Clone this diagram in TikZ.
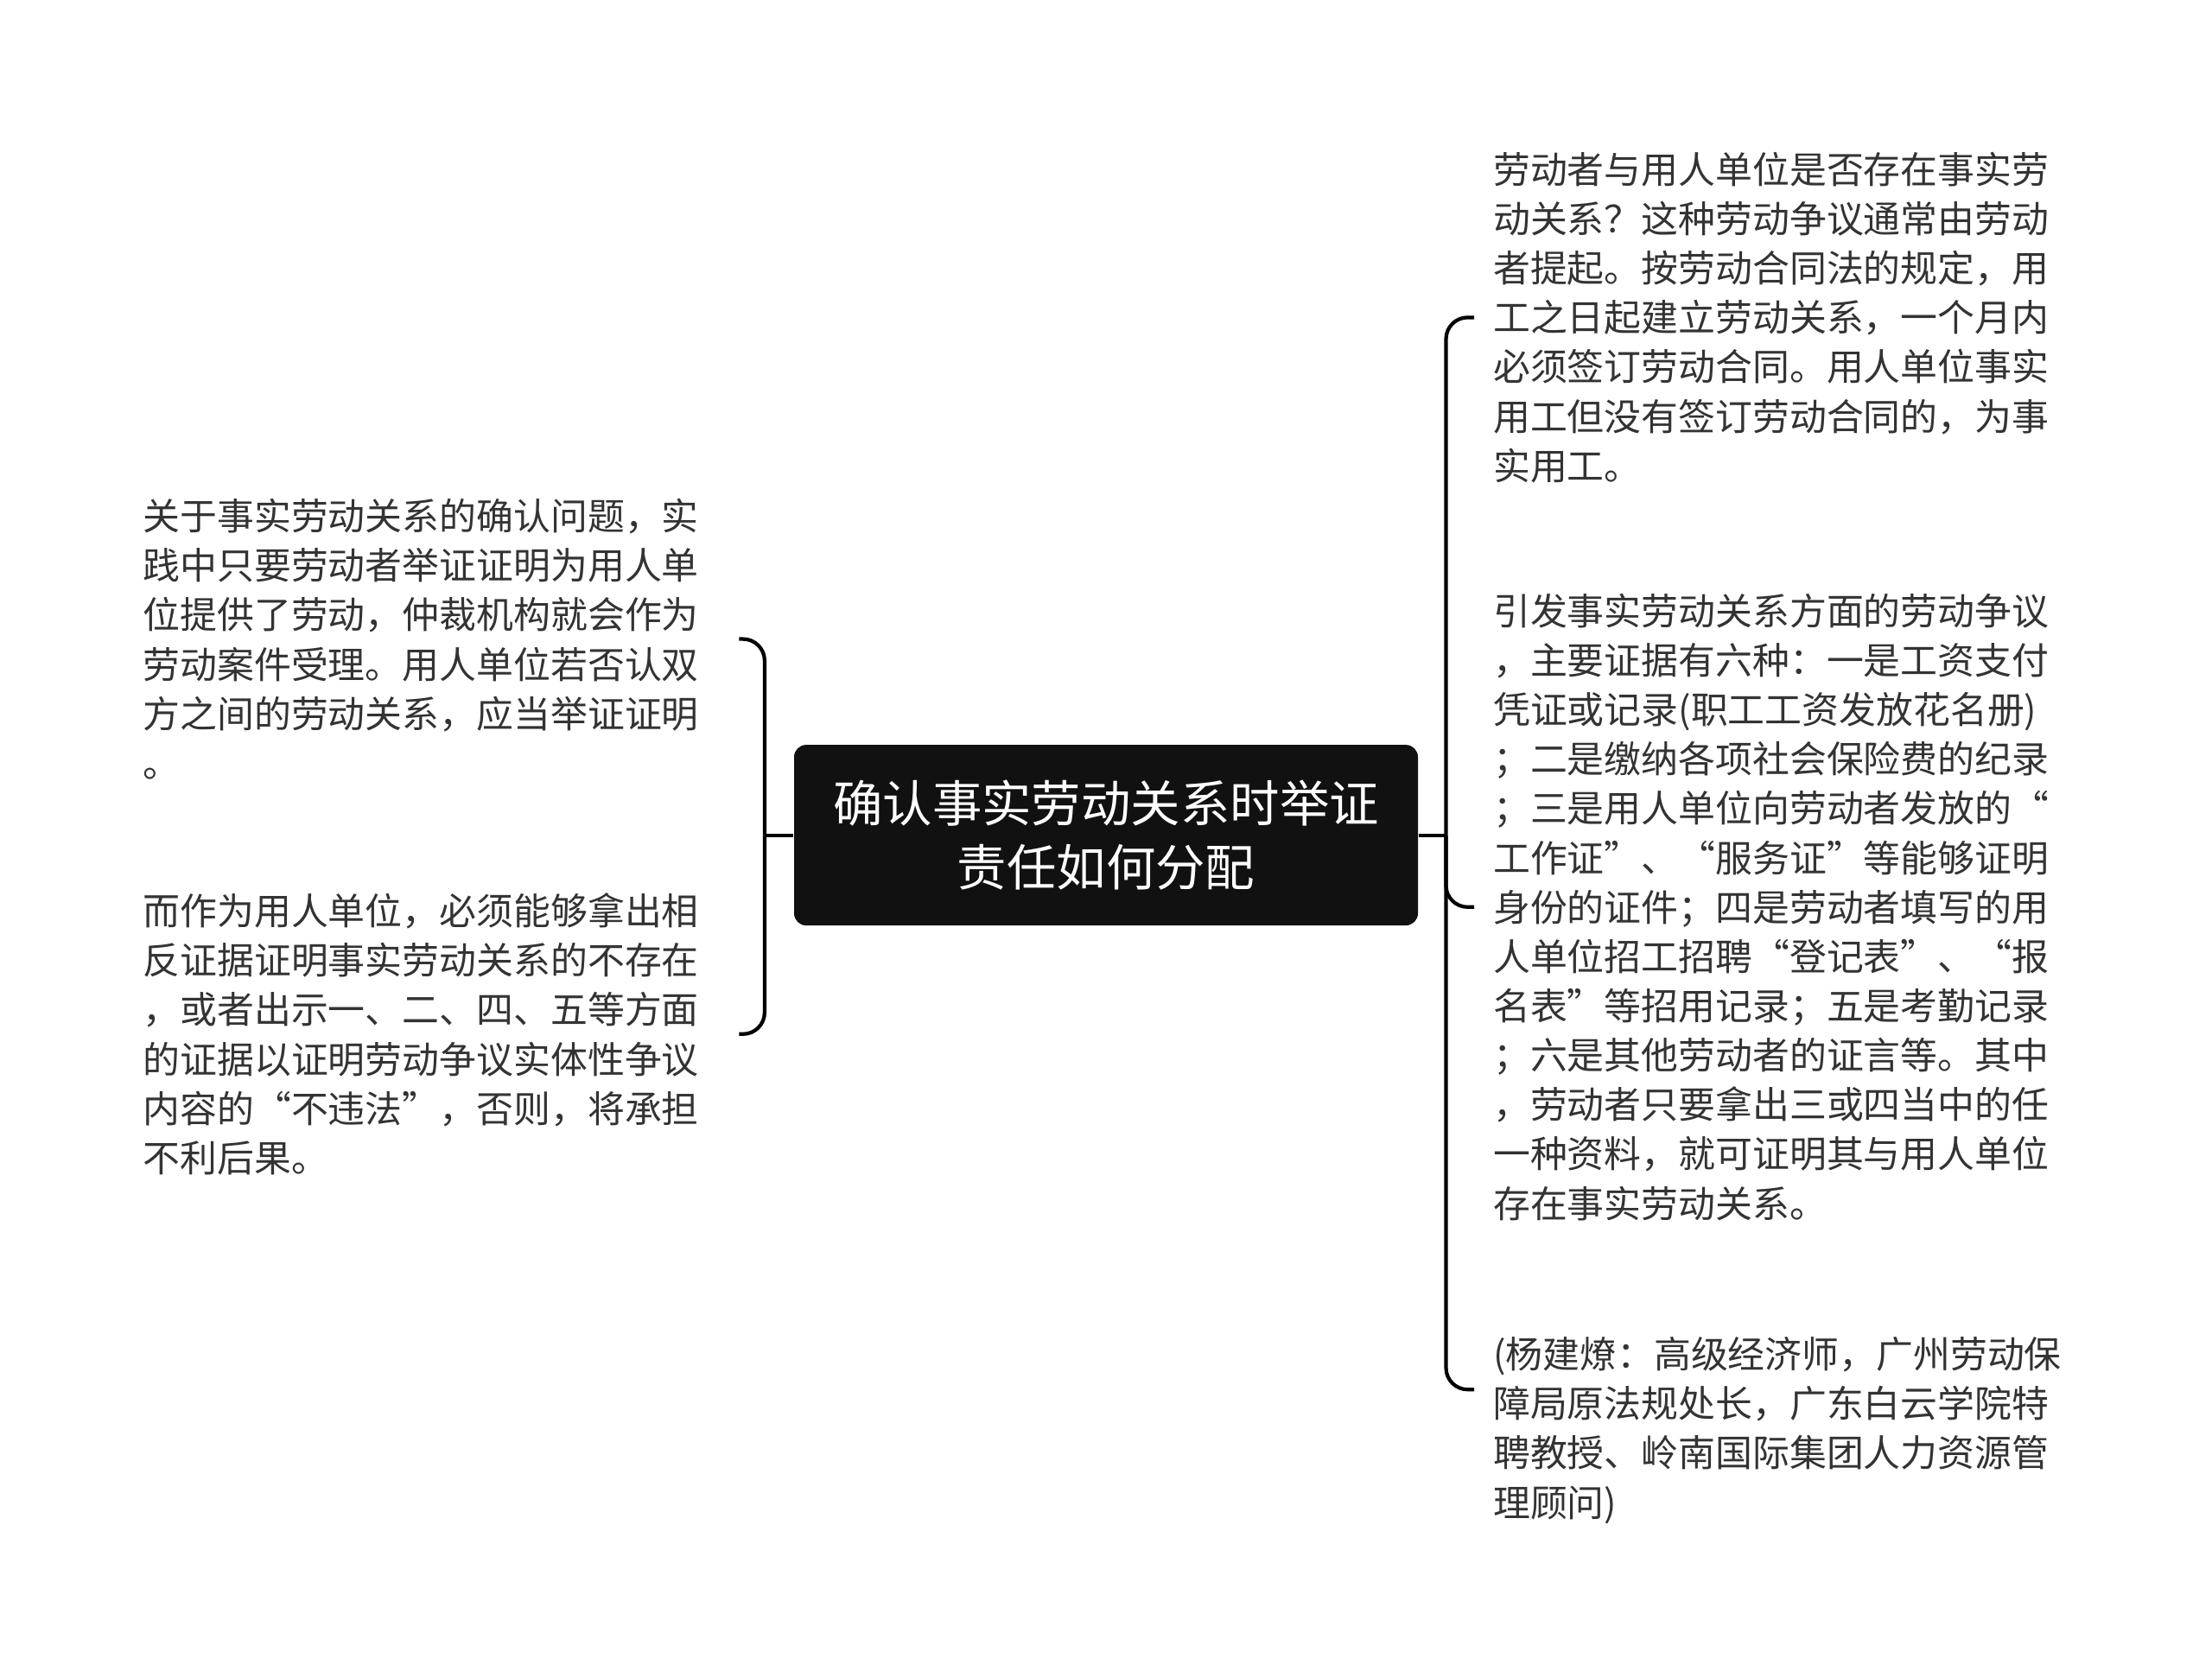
\documentclass[tikz,border=0pt]{standalone}
\usepackage{fontspec}
\setmainfont{Noto Sans CJK SC}
\usepackage{tikz}
\usetikzlibrary{calc}
\definecolor{txtgray}{HTML}{333333}
\definecolor{rootfill}{HTML}{111111}

\begin{document}
\begin{tikzpicture}[
  rootbox/.style={draw=none, fill=rootfill, rounded corners=0.14cm, text=white,
    minimum width=7.22cm, minimum height=2.09cm, align=center,
    font=\fontsize{16.34pt}{20.9pt}\selectfont},
  lefttext/.style={anchor=west, inner sep=0pt, text width=6.89cm, align=left,
    text=txtgray, font=\fontsize{12.2pt}{16.26pt}\selectfont},
  righttext/.style={anchor=west, inner xsep=0.212cm, inner ysep=0pt, align=left,
    text=txtgray, font=\fontsize{12.2pt}{16.26pt}\selectfont},
  conn/.style={draw=black, line width=1.2pt, rounded corners=0.25cm}
]
  \useasboundingbox (0,0) rectangle (25.6,-19.34);

  \node[rootbox] (root) at (12.80,-9.666) {确认事实劳动关系时举证\\责任如何分配};

  \node[lefttext] (l1) at (1.649,-7.396) {关于事实劳动关系的确认问题，实\\践中只要劳动者举证证明为用人单\\位提供了劳动，仲裁机构就会作为\\劳动案件受理。用人单位若否认双\\方之间的劳动关系，应当举证证明\\。};
  \node[lefttext] (l2) at (1.649,-11.968) {而作为用人单位，必须能够拿出相\\反证据证明事实劳动关系的不存在\\，或者出示一、二、四、五等方面\\的证据以证明劳动争议实体性争议\\内容的“不违法”，否则，将承担\\不利后果。};

  \node[righttext] (r1) at (17.062,-3.674) {劳动者与用人单位是否存在事实劳\\动关系？这种劳动争议通常由劳动\\者提起。按劳动合同法的规定，用\\工之日起建立劳动关系，一个月内\\必须签订劳动合同。用人单位事实\\用工但没有签订劳动合同的，为事\\实用工。};
  \node[righttext] (r2) at (17.062,-10.498) {引发事实劳动关系方面的劳动争议\\，主要证据有六种：一是工资支付\\凭证或记录(职工工资发放花名册)\\；二是缴纳各项社会保险费的纪录\\；三是用人单位向劳动者发放的“\\工作证”、“服务证”等能够证明\\身份的证件；四是劳动者填写的用\\人单位招工招聘“登记表”、“报\\名表”等招用记录；五是考勤记录\\；六是其他劳动者的证言等。其中\\，劳动者只要拿出三或四当中的任\\一种资料，就可证明其与用人单位\\存在事实劳动关系。};
  \node[righttext] (r3) at (17.062,-16.555) {(杨建燎：高级经济师，广州劳动保\\障局原法规处长，广东白云学院特\\聘教授、岭南国际集团人力资源管\\理顾问)};

  \coordinate (lb) at (8.849,-9.666);
  \coordinate (rb) at (16.735,-9.666);
  \coordinate (r3in) at (17.062,-16.082);

  \draw[conn] (root.west) -- (lb);
  \draw[conn] (lb) |- (l1.east);
  \draw[conn] (lb) |- (l2.east);

  \draw[conn] (root.east) -- (rb);
  \draw[conn] (rb) |- (r1.west);
  \draw[conn] (rb) |- (r2.west);
  \draw[conn] (rb) |- (r3in);
\end{tikzpicture}
\end{document}
